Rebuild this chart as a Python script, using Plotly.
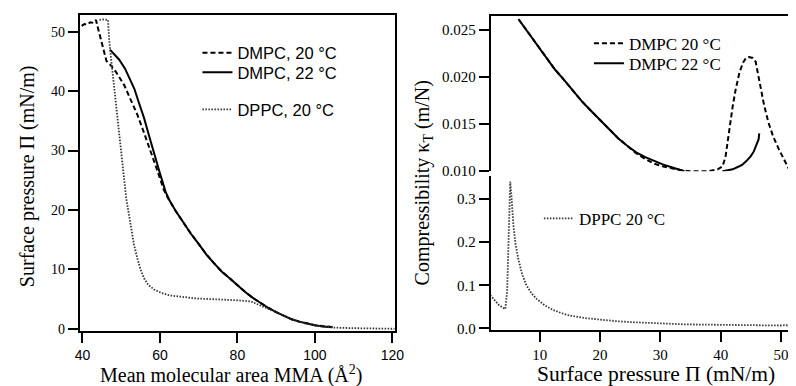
import plotly.graph_objects as go

# ---------------- Left panel: isotherms (MMA in Å^2, pressure in mN/m) ----------------
dmpc20_mma = [39.8, 40.5, 41.2, 42.0, 42.8, 43.5, 43.9, 44.4, 44.9, 45.5, 46.2, 47.4, 48.7, 50.8,
              52.5, 54.2, 55.9, 57.6, 59.3, 61.0, 62.0, 64.0, 66.0, 68.0, 70.0, 72.0, 74.0, 76.0,
              78.0, 80.0, 82.0, 84.0, 86.0, 88.0, 90.0, 92.0, 94.0, 96.0, 98.0, 100.0, 102.0, 104.0, 105.0]
dmpc20_pi = [51.0, 51.3, 51.2, 51.6, 51.5, 52.0, 50.9, 49.6, 48.2, 46.6, 45.1, 44.3, 43.2, 41.0,
             38.6, 36.0, 33.0, 30.0, 26.7, 23.4, 22.1, 19.9, 17.9, 16.0, 14.3, 12.5, 11.0, 9.6,
             8.5, 7.3, 6.2, 5.2, 4.3, 3.5, 2.8, 2.2, 1.6, 1.2, 0.85, 0.6, 0.45, 0.32, 0.28]

dmpc22_mma = [47.1, 48.0, 49.5, 51.0, 52.2, 53.4, 54.6, 55.9, 57.2, 58.5, 60.0, 61.5, 62.5, 64.0,
              66.0, 68.0, 70.0, 72.0, 74.0, 76.0, 78.0, 80.0, 82.0, 84.0, 86.0, 88.0, 90.0, 92.0,
              94.0, 96.0, 98.0, 100.0, 102.0, 104.5]
dmpc22_pi = [47.0, 46.3, 45.3, 43.8, 42.2, 40.4, 38.0, 35.5, 32.5, 29.4, 26.2, 23.0, 21.6, 19.9,
             17.9, 16.0, 14.3, 12.5, 11.0, 9.6, 8.5, 7.3, 6.2, 5.2, 4.3, 3.5, 2.8, 2.2,
             1.6, 1.2, 0.85, 0.6, 0.4, 0.25]

dppc_mma = [44.4, 45.5, 46.6, 46.9, 47.4, 48.3, 49.2, 50.0, 50.7, 51.3, 52.5, 53.3, 54.2, 55.0,
            55.9, 57.0, 58.5, 60.5, 62.7, 66.0, 69.5, 73.0, 77.1, 80.0, 83.5, 85.0, 87.0, 90.0,
            94.0, 98.0, 102.0, 105.0, 110.0, 115.0, 120.6]
dppc_pi = [52.0, 52.1, 52.0, 48.7, 45.4, 40.0, 35.0, 30.5, 26.0, 22.0, 17.3, 14.2, 11.8, 10.0,
           8.5, 7.4, 6.6, 6.0, 5.6, 5.3, 5.1, 5.0, 4.9, 4.8, 4.6, 4.2, 3.6, 2.8,
           1.6, 0.8, 0.4, 0.2, 0.1, 0.05, 0.0]

# ---------------- Right panel: compressibility vs surface pressure ----------------
k_dmpc20_pi = [6.5, 8.0, 9.5, 11.0, 12.5, 14.0, 15.5, 17.0, 18.5, 20.0, 21.5, 23.0, 24.5, 26.0,
               27.5, 29.0, 30.5, 32.0, 33.5, 35.0, 36.5, 38.0, 39.5, 40.3, 40.8, 41.2, 41.6, 42.0,
               42.5, 43.1, 43.7, 44.2, 44.7, 45.3, 45.8, 46.2, 46.6, 47.2, 47.9, 48.7, 49.6, 50.5, 51.5]
k_dmpc20 = [0.0261, 0.0248, 0.0235, 0.0222, 0.0208, 0.0197, 0.0185, 0.0174, 0.0164, 0.0154, 0.0144,
            0.0135, 0.0127, 0.0119, 0.0113, 0.0108, 0.0105, 0.0103, 0.0101, 0.0100, 0.0100, 0.0100,
            0.0102, 0.0105, 0.0115, 0.0135, 0.0152, 0.0169, 0.0187, 0.0204, 0.0215, 0.0220, 0.0221,
            0.0220, 0.0216, 0.0203, 0.0187, 0.0170, 0.0152, 0.0137, 0.0124, 0.0112, 0.0100]

k_dmpc22_pi = [6.5, 8.0, 9.5, 11.0, 12.5, 14.0, 15.5, 17.0, 18.5, 20.0, 21.5, 23.0, 24.5, 26.0,
               27.5, 29.0, 30.5, 32.0, 33.5, 34.0, None, 40.3, 41.0, 42.0, 43.0, 43.6, 44.3, 45.0,
               45.5, 46.0, 46.3, 46.4]
k_dmpc22 = [0.0261, 0.0248, 0.0235, 0.0222, 0.0208, 0.0197, 0.0185, 0.0174, 0.0164, 0.0154, 0.0144,
            0.0135, 0.0127, 0.0120, 0.0115, 0.0111, 0.0107, 0.0104, 0.0101, 0.0100, None, 0.0100,
            0.0101, 0.0102, 0.0105, 0.0107, 0.0111, 0.0116, 0.0121, 0.0128, 0.0134, 0.0140]

k_dppc_pi = [1.8, 2.5, 3.2, 3.8, 4.3, 4.6, 4.85, 5.0, 5.12, 5.3, 5.66, 6.0, 6.47, 7.1, 7.8, 8.6,
             9.45, 10.8, 12.2, 13.5, 14.9, 17.5, 20.3, 23.0, 25.7, 28.4, 31.1, 34.0, 36.5, 40.0,
             42.0, 45.0, 47.4, 50.0, 50.6, 51.5, 52.2]
k_dppc = [0.077, 0.065, 0.055, 0.049, 0.045, 0.085, 0.20, 0.30, 0.34, 0.31, 0.236, 0.195, 0.16,
          0.125, 0.10, 0.082, 0.069, 0.054, 0.043, 0.036, 0.030, 0.024, 0.020, 0.0165, 0.0143,
          0.0122, 0.0105, 0.0095, 0.009, 0.0082, 0.008, 0.0075, 0.007, 0.0068, 0.0075, 0.007, 0.007]

left_xticks = [40, 60, 80, 100, 120]
left_yticks = [0, 10, 20, 30, 40, 50]
right_xticks = [10, 20, 30, 40, 50]
top_yticks = [0.010, 0.015, 0.020, 0.025]
bot_yticks = [0.0, 0.1, 0.2, 0.3]

SERIF = "Liberation Serif"
SANS = "Liberation Sans"

W, H = 796, 386

def px(x):
    return x / W

def py(y):
    return (H - y) / H

fig = go.Figure()

DASH = "5px,3px"
DOT = "1.5px,1.5px"
DOTCOL = "#333"

# left panel traces
fig.add_trace(go.Scatter(x=dmpc20_mma, y=dmpc20_pi, mode="lines", name="DMPC, 20 °C",
                         line=dict(color="black", width=2, dash=DASH),
                         xaxis="x", yaxis="y", legend="legend"))
fig.add_trace(go.Scatter(x=dmpc22_mma, y=dmpc22_pi, mode="lines", name="DMPC, 22 °C",
                         line=dict(color="black", width=2),
                         xaxis="x", yaxis="y", legend="legend4"))
fig.add_trace(go.Scatter(x=dppc_mma, y=dppc_pi, mode="lines", name="DPPC, 20 °C",
                         line=dict(color=DOTCOL, width=1.8, dash=DOT),
                         xaxis="x", yaxis="y", legend="legend5"))

# right top
fig.add_trace(go.Scatter(x=k_dmpc20_pi, y=k_dmpc20, mode="lines", name="DMPC 20 °C",
                         line=dict(color="black", width=2, dash=DASH),
                         xaxis="x2", yaxis="y2", legend="legend2"))
fig.add_trace(go.Scatter(x=k_dmpc22_pi, y=k_dmpc22, mode="lines", name="DMPC 22 °C",
                         line=dict(color="black", width=2), connectgaps=False,
                         xaxis="x2", yaxis="y2", legend="legend6"))
# right bottom
fig.add_trace(go.Scatter(x=k_dppc_pi, y=k_dppc, mode="lines", name="DPPC 20 °C",
                         line=dict(color=DOTCOL, width=1.8, dash=DOT),
                         xaxis="x3", yaxis="y3", legend="legend3"))

axis_common = dict(showline=True, linecolor="black", linewidth=2, ticks="outside",
                   ticklen=10, tickwidth=2, tickcolor="black", showgrid=False, zeroline=False)

def leg(xp, yp, family, size):
    return dict(x=px(xp), y=py(yp), xanchor="left", yanchor="top", bgcolor="rgba(0,0,0,0)",
                font=dict(family=family, size=size, color="black"))

fig.update_layout(
    width=W, height=H,
    margin=dict(l=0, r=0, t=0, b=0),
    paper_bgcolor="white", plot_bgcolor="white",
    xaxis=dict(domain=[px(68), px(389)], range=[39.3, 120.6], tickvals=left_xticks,
               anchor="y", mirror=True, tickfont=dict(family=SANS, size=14, color="black"),
               **axis_common),
    yaxis=dict(domain=[py(330), py(7)], range=[-0.4, 52.85], tickvals=left_yticks,
               anchor="x", mirror=True, tickfont=dict(family=SERIF, size=14, color="black"),
               **axis_common),
    xaxis2=dict(domain=[px(487), 1.0], range=[1.9, 52.16], anchor="y2", side="top",
                showline=True, linecolor="black", linewidth=2, ticks="", showticklabels=False,
                showgrid=False, zeroline=False),
    yaxis2=dict(domain=[py(166.7), py(8)], range=[0.010, 0.02646], tickvals=top_yticks,
                tickformat=".3f", anchor="x2",
                tickfont=dict(family=SERIF, size=15, color="black"), **axis_common),
    xaxis3=dict(domain=[px(487), 1.0], range=[1.9, 52.16], tickvals=right_xticks, anchor="y3",
                tickfont=dict(family=SERIF, size=15, color="black"), **axis_common),
    yaxis3=dict(domain=[py(329), py(172)], range=[-0.004, 0.352], tickvals=bot_yticks,
                tickformat=".1f", anchor="x3",
                tickfont=dict(family=SERIF, size=15, color="black"), **axis_common),
    legend=leg(188, 28, SANS, 16.5),
    legend4=leg(188, 48, SANS, 16.5),
    legend5=leg(188, 86, SANS, 16.5),
    legend2=leg(587, 18, SERIF, 17),
    legend6=leg(587, 38.5, SERIF, 17),
    legend3=leg(536, 197, SERIF, 17),
    showlegend=True,
)

fig.add_annotation(text="Mean molecular area MMA (Å<sup>2</sup>)", xref="paper", yref="paper",
                   x=px(222), y=py(374), xanchor="center", yanchor="middle", showarrow=False,
                   font=dict(family=SERIF, size=20, color="black"))
fig.add_annotation(text="Surface pressure Π (mN/m)", xref="paper", yref="paper",
                   x=px(655), y=py(374), xanchor="center", yanchor="middle", showarrow=False,
                   font=dict(family=SERIF, size=21.5, color="black"))
fig.add_annotation(text="Surface pressure Π (mN/m)", xref="paper", yref="paper",
                   x=px(15), y=py(172), xanchor="center", yanchor="middle", showarrow=False,
                   textangle=-90, font=dict(family=SERIF, size=20, color="black"))
fig.add_annotation(text="Compressibility κ<sub>T</sub> (m/N)", xref="paper", yref="paper",
                   x=px(418), y=py(179), xanchor="center", yanchor="middle", showarrow=False,
                   textangle=-90, font=dict(family=SERIF, size=20, color="black"))

fig.write_html("out.html")
